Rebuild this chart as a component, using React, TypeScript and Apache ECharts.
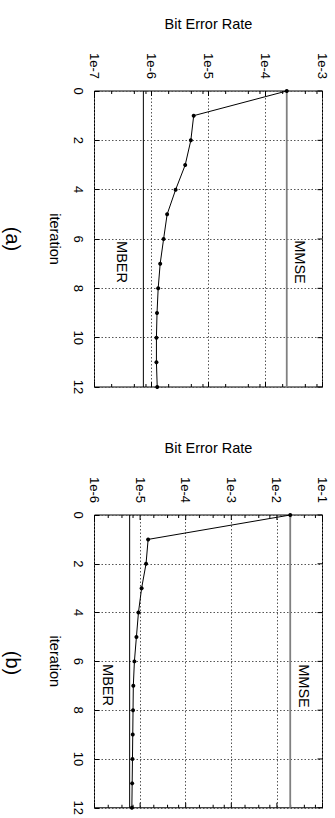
import React, { useEffect, useRef } from 'react';
import * as echarts from 'echarts';

// ---- data ----
const iterations = [0, 1, 2, 3, 4, 5, 6, 7, 8, 9, 10, 11, 12];
const berA = [2.36e-4, 5.5e-6, 4.9e-6, 3.9e-6, 2.65e-6, 1.88e-6, 1.63e-6, 1.42e-6, 1.31e-6, 1.25e-6, 1.22e-6, 1.22e-6, 1.26e-6];
const mmseA = 2.36e-4;
const mberA = 7.2e-7;
const berB = [1.96e-2, 1.5e-5, 1.35e-5, 1.08e-5, 9.2e-6, 8.3e-6, 7.5e-6, 7.1e-6, 7.0e-6, 6.9e-6, 6.8e-6, 6.7e-6, 6.6e-6];
const mmseB = 1.96e-2;
const mberB = 5.9e-6;
const rangeA = [1e-7, 1e-3];
const rangeB = [1e-6, 1e-1];
const minorMultA = [2, 5, 8];
const minorMultB = [2, 4, 7];
const iterMin = 0;
const iterMax = 12;
const iterStep = 2;
const panelLabels = ['(a)', '(b)'];
const xName = 'Bit Error Rate';
const yName = 'iteration';
const mmseLabel = 'MMSE';
const mberLabel = 'MBER';

const FONT = '"Liberation Sans", Arial, Helvetica, sans-serif';

function tickValues(range: number[], mults: number[]) {
  const lo = Math.round(Math.log10(range[0]));
  const hi = Math.round(Math.log10(range[1]));
  const out: { v: number; major: boolean }[] = [];
  for (let k = lo; k <= hi; k++) {
    out.push({ v: Math.pow(10, k), major: true });
    if (k < hi) mults.forEach((m) => out.push({ v: m * Math.pow(10, k), major: false }));
  }
  return out;
}

export default function App() {
  const ref = useRef<HTMLDivElement>(null);
  useEffect(() => {
    if (!ref.current) return;
    const chart = echarts.init(ref.current, undefined, { renderer: 'svg' });
    const panels = [
      { ber: berA, mmse: mmseA, mber: mberA, range: rangeA, mults: minorMultA, top: 91 },
      { ber: berB, mmse: mmseB, mber: mberB, range: rangeB, mults: minorMultB, top: 515 },
    ];
    const grids: any[] = [];
    const xAxes: any[] = [];
    const yAxes: any[] = [];
    const series: any[] = [];
    const graphic: any[] = [];
    const gridLine = { color: '#555', type: [1.5, 2], width: 1 };
    panels.forEach((p, i) => {
      grids.push({ left: 94.5, top: p.top, width: 228, height: 296, show: true, borderColor: '#000', borderWidth: 1, backgroundColor: 'transparent' });
      xAxes.push({
        type: 'log', logBase: 10, gridIndex: i, position: 'top', min: p.range[0], max: p.range[1],
        splitNumber: Math.round(Math.log10(p.range[1] / p.range[0])),
        axisLine: { show: false }, axisTick: { show: false },
        axisLabel: { rotate: -90, margin: 12, fontSize: 13, color: '#000', fontFamily: FONT,
          formatter: (v: number) => '1e' + Math.round(Math.log10(v)) },
        splitLine: { show: true, lineStyle: gridLine },
        name: xName, nameLocation: 'middle', nameGap: 60,
        nameTextStyle: { fontSize: 14.5, color: '#000', fontFamily: FONT },
      });
      yAxes.push({
        type: 'value', gridIndex: i, inverse: true, min: iterMin, max: iterMax, interval: iterStep,
        axisLine: { show: false },
        axisTick: { show: true, inside: true, length: 5, lineStyle: { color: '#000' } },
        axisLabel: { rotate: -90, margin: 10, fontSize: 13, color: '#000', fontFamily: FONT },
        splitLine: { show: true, lineStyle: gridLine },
        name: yName, nameLocation: 'middle', nameRotate: -90, nameGap: 32,
        nameTextStyle: { fontSize: 14.5, color: '#000', fontFamily: FONT },
      });
      const ticks = tickValues(p.range, p.mults);
      series.push({
        type: 'custom', xAxisIndex: i, yAxisIndex: i, silent: true, z: 3,
        data: ticks.map((t) => [t.v, iterMin, t.major ? 1 : 0]),
        encode: { x: 0, y: 1 },
        renderItem: (params: any, api: any) => {
          const v = api.value(0);
          const len = api.value(2) ? 5 : 3;
          const a = api.coord([v, iterMin]);
          const b = api.coord([v, iterMax]);
          return {
            type: 'group',
            children: [
              { type: 'line', shape: { x1: a[0], y1: a[1], x2: a[0], y2: a[1] + len }, style: { stroke: '#000', lineWidth: 1 } },
              { type: 'line', shape: { x1: b[0], y1: b[1], x2: b[0], y2: b[1] - len }, style: { stroke: '#000', lineWidth: 1 } },
            ],
          };
        },
      });
      const itTicks: number[] = [];
      for (let t = iterMin; t <= iterMax; t += iterStep) itTicks.push(t);
      series.push({
        type: 'custom', xAxisIndex: i, yAxisIndex: i, silent: true, z: 3,
        data: itTicks.map((t) => [p.range[1], t]),
        encode: { x: 0, y: 1 },
        renderItem: (params: any, api: any) => {
          const c = api.coord([api.value(0), api.value(1)]);
          return { type: 'line', shape: { x1: c[0], y1: c[1], x2: c[0] - 5, y2: c[1] }, style: { stroke: '#000', lineWidth: 1 } };
        },
      });
      series.push({
        type: 'line', xAxisIndex: i, yAxisIndex: i, symbol: 'none', z: 4,
        data: [[p.mber, iterMin], [p.mber, iterMax]],
        lineStyle: { color: '#000', width: 1 },
      });
      series.push({
        type: 'line', xAxisIndex: i, yAxisIndex: i, symbol: 'none', z: 4,
        data: [[p.mmse, iterMin], [p.mmse, iterMax]],
        lineStyle: { color: '#808080', width: 1.8 },
      });
      series.push({
        type: 'line', xAxisIndex: i, yAxisIndex: i, z: 5,
        data: iterations.map((it, k) => [p.ber[k], it]),
        symbol: 'circle', symbolSize: 4,
        lineStyle: { color: '#000', width: 1 },
        itemStyle: { color: '#000' },
      });
      const cy = p.top + 148;
      const rot = -Math.PI / 2;
      graphic.push({ type: 'text', x: 13, y: cy, rotation: rot, style: { text: panelLabels[i], fontSize: 20, fontFamily: FONT, fill: '#000', align: 'center', verticalAlign: 'middle' } });
    });
    // inside labels
    const rot = -Math.PI / 2;
    const inLabels = [
      { t: mmseLabel, x: 300, y: 262 },
      { t: mberLabel, x: 122, y: 262 },
      { t: mmseLabel, x: 304, y: 686 },
      { t: mberLabel, x: 108, y: 685 },
    ];
    inLabels.forEach((l) => graphic.push({ type: 'text', x: l.x, y: l.y, rotation: rot, z: 10, style: { text: l.t, fontSize: 14.5, fontFamily: FONT, fill: '#000', align: 'center', verticalAlign: 'middle' } }));

    chart.setOption({
      animation: false,
      backgroundColor: '#fff',
      grid: grids,
      xAxis: xAxes,
      yAxis: yAxes,
      series,
      graphic,
    });
    return () => chart.dispose();
  }, []);
  return <div ref={ref} style={{ position: 'absolute', left: 0, top: 0, width: 335, height: 818 }} />;
}
